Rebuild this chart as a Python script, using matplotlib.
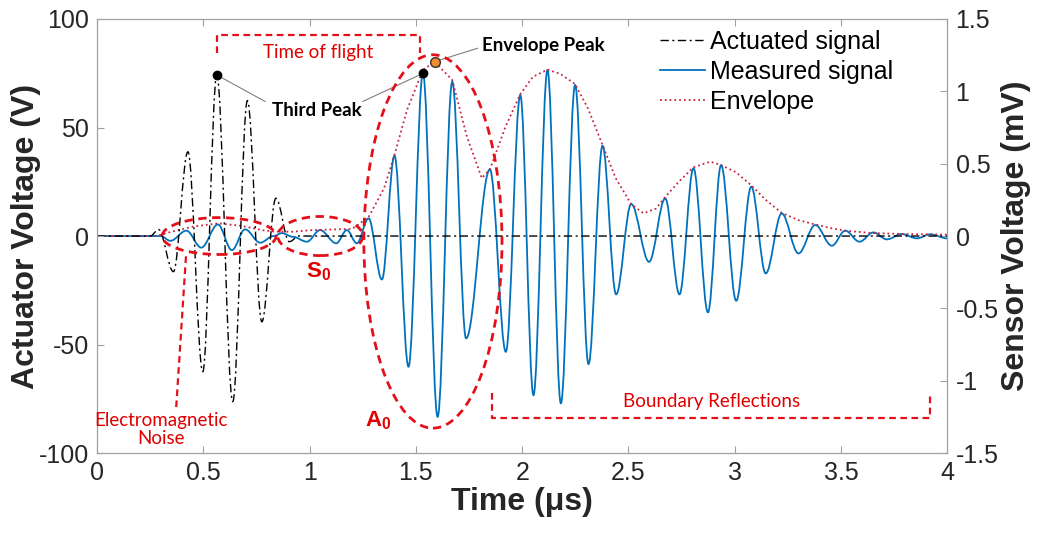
import numpy as np
import matplotlib
matplotlib.use("Agg")
import matplotlib.pyplot as plt
from matplotlib.path import Path
from matplotlib.patches import PathPatch, Ellipse
from matplotlib.lines import Line2D

plt.rcParams['font.family'] = ['Liberation Sans', 'DejaVu Sans']
plt.rcParams['mathtext.fontset'] = 'custom'
plt.rcParams['mathtext.bf'] = 'Liberation Sans:bold'
plt.rcParams['mathtext.rm'] = 'Liberation Sans'
plt.rcParams['axes.unicode_minus'] = False

# actuated signal: extrema (time in us, volts)
act_t = [0.0, 0.25, 0.289, 0.359, 0.427, 0.497, 0.563, 0.638, 0.707, 0.775, 0.841, 0.904, 0.95, 4.0]
act_v = [0.0, 0.0, 3.0, -16.4, 38.8, -62.5, 74.2, -76.3, 62.4, -39.5, 17.4, -2.6, 0.0, 0.0]

# measured signal: extrema (time in us, mV)
meas_t = [0.0, 0.30, 0.344, 0.42, 0.49, 0.568, 0.634, 0.696, 0.767, 0.83, 0.87, 0.92,
          0.987, 1.049, 1.125, 1.175, 1.222, 1.277, 1.34, 1.399, 1.465, 1.533, 1.602,
          1.671, 1.736, 1.848, 1.923, 1.991, 2.053, 2.119, 2.182, 2.249, 2.312, 2.378,
          2.442, 2.513, 2.597, 2.673, 2.74, 2.806, 2.874, 2.936, 3.007, 3.078, 3.146,
          3.221, 3.30, 3.379, 3.457, 3.52, 3.587, 3.653, 3.716, 3.786, 3.857, 3.92, 4.0]
meas_v = [0.0, 0.0, -0.033, 0.037, -0.08, 0.08, -0.097, 0.046, -0.046, 0.0, 0.02, -0.005,
          -0.039, 0.041, -0.05, 0.041, -0.05, 0.122, -0.30, 0.555, -0.903, 1.124, -1.249,
          1.066, -0.707, 0.461, -0.80, 0.974, -1.10, 1.147, -1.156, 1.044, -0.885, 0.624,
          -0.403, 0.221, -0.178, 0.26, -0.403, 0.468, -0.527, 0.49, -0.447, 0.341, -0.258,
          0.156, -0.12, 0.076, -0.067, 0.037, -0.039, 0.025, -0.023, 0.014, -0.016, 0.012, -0.016]

# envelope (time in us, mV)
env_t = [0.0, 0.28, 0.35, 0.45, 0.57, 0.68, 0.78, 0.84, 0.92, 1.0, 1.1, 1.2, 1.277, 1.35,
         1.399, 1.458, 1.533, 1.588, 1.671, 1.74, 1.81, 1.848, 1.92, 1.991, 2.05, 2.119,
         2.18, 2.249, 2.31, 2.378, 2.44, 2.513, 2.571, 2.63, 2.673, 2.74, 2.806, 2.885,
         2.936, 3.007, 3.078, 3.146, 3.221, 3.30, 3.379, 3.45, 3.52, 3.65, 3.8, 4.0]
env_v = [0.0, 0.0, 0.03, 0.065, 0.088, 0.07, 0.04, 0.03, 0.03, 0.04, 0.045, 0.05, 0.13, 0.33,
         0.56, 0.871, 1.147, 1.205, 1.078, 0.686, 0.40, 0.46, 0.75, 0.98, 1.10, 1.15,
         1.12, 1.05, 0.88, 0.63, 0.40, 0.22, 0.157, 0.19, 0.27, 0.38, 0.475, 0.514,
         0.49, 0.44, 0.35, 0.25, 0.16, 0.11, 0.08, 0.055, 0.037, 0.02, 0.014, 0.01]

third_peak = (0.563, 74.2)       # on actuated signal (V)
third_peak_meas = (1.533, 1.124)  # on measured signal (mV)
env_peak = (1.588, 1.205)         # envelope peak (mV)

RED = '#e3101a'
TXT_RED = '#e00000'


def wave_path(t, v, k=0.36):
    """smooth curve through the read extrema, flat tangent at each one"""
    verts = [(t[0], v[0])]
    codes = [Path.MOVETO]
    for i in range(len(t) - 1):
        dt = t[i + 1] - t[i]
        verts += [(t[i] + k * dt, v[i]), (t[i + 1] - k * dt, v[i + 1]), (t[i + 1], v[i + 1])]
        codes += [Path.CURVE4] * 3
    return Path(verts, codes)


fig = plt.figure(figsize=(10.56, 5.42), dpi=100)
ax = fig.add_axes([0.092, 0.164, 0.805, 0.801])
ax2 = ax.twinx()
ax.set_zorder(2)
ax.patch.set_visible(False)

ax2.add_patch(PathPatch(wave_path(meas_t, meas_v), fill=False, edgecolor='#0072BD', lw=1.3))
ax2.plot(env_t, env_v, color='#c8243f', ls=':', lw=1.3)
ax.add_patch(PathPatch(wave_path(act_t, act_v), fill=False, edgecolor='black', lw=1.0,
                       linestyle=(0, (6, 2.5, 1.5, 2.5))))

ax.set_xlim(0, 4)
ax.set_ylim(-100, 100)
ax2.set_ylim(-1.5, 1.5)
ax.set_xticks(np.arange(0, 4.01, 0.5))
ax.set_xticklabels(['0', '0.5', '1', '1.5', '2', '2.5', '3', '3.5', '4'])
ax.set_yticks([-100, -50, 0, 50, 100])
ax2.set_yticks([-1.5, -1, -0.5, 0, 0.5, 1, 1.5])
ax2.set_yticklabels(['-1.5', '-1', '-0.5', '0', '0.5', '1', '1.5'])

for a in (ax, ax2):
    for s in a.spines.values():
        s.set_color('#a0a0a0')
ax.tick_params(axis='both', direction='in', length=5, color='#a0a0a0', labelsize=18,
               labelcolor='#262626', top=True, pad=6)
ax.tick_params(axis='y', right=False)
ax2.tick_params(axis='y', direction='in', length=5, color='#a0a0a0', labelsize=18,
                labelcolor='#262626', pad=6)

ax.set_xlabel('Time (μs)', fontsize=23, fontweight='bold', color='#262626', labelpad=1)
ax.set_ylabel('Actuator Voltage (V)', fontsize=23, fontweight='bold', color='#262626', labelpad=-2)
ax2.set_ylabel('Sensor Voltage (mV)', fontsize=23, fontweight='bold', color='#262626', labelpad=2)

# markers
ax.plot(*third_peak, 'o', color='black', ms=6, zorder=6)
mv2v = 100 / 1.5
ax.plot(third_peak_meas[0], third_peak_meas[1] * mv2v, 'o', color='black', ms=6, zorder=6)
ax.plot(env_peak[0], env_peak[1] * mv2v, 'o', mfc='#f08c32', mec='#333333', ms=7, zorder=6)

# annotations
ann = ['Lato', 'DejaVu Sans']
ax.text(1.035, 58, 'Third Peak', fontsize=13.5, fontweight='bold', family=ann,
        ha='center', va='center')
ax.plot([third_peak[0], 0.79], [third_peak[1], 62], color='#7f7f7f', lw=0.8)
ax.plot([1.25, third_peak_meas[0]], [62, third_peak_meas[1] * mv2v], color='#7f7f7f', lw=0.8)
ax.text(2.1, 88, 'Envelope Peak', fontsize=13.5, fontweight='bold', family=ann,
        ha='center', va='center')
ax.plot([env_peak[0], 1.79], [env_peak[1] * mv2v, 86.5], color='#7f7f7f', lw=0.8)

dash = (0, (3, 2))
for c, w, h in [((0.574, 0), 0.536, 17), ((1.05, 0), 0.40, 18), ((1.58, -2.5), 0.65, 172)]:
    ax.add_patch(Ellipse(c, w, h, fill=False, edgecolor=RED, lw=2.0, linestyle=dash, zorder=5))

ax.text(1.04, -16.5, r'$\mathbf{S}_\mathbf{0}$', color=TXT_RED, fontsize=16,
        ha='center', va='center')
ax.text(1.32, -85, r'$\mathbf{A}_\mathbf{0}$', color=TXT_RED, fontsize=16,
        ha='center', va='center')

ax.text(0.30, -89, 'Electromagnetic\nNoise', color=TXT_RED, fontsize=13.5, family=ann,
        ha='center', va='center', linespacing=1.1)
ax.plot([0.372, 0.419], [-78.8, -7.8], color=RED, lw=1.6, ls=(0, (3, 2)))

ax.plot([0.565, 0.565, 1.52, 1.52], [84.5, 92.5, 92.5, 84.5], color=RED, lw=1.6, ls=(0, (3, 2)))
ax.text(1.04, 84.5, 'Time of flight', color=TXT_RED, fontsize=13.5, family=ann,
        ha='center', va='center')

ax.plot([1.86, 1.86, 3.92, 3.92], [-72.4, -83.9, -83.9, -72.4], color=RED, lw=1.6, ls=(0, (3, 2)))
ax.text(2.89, -76, 'Boundary Reflections', color=TXT_RED, fontsize=13.5, family=ann,
        ha='center', va='center')

handles = [Line2D([], [], color='black', lw=1.0, ls=(0, (6, 2.5, 1.5, 2.5))),
           Line2D([], [], color='#0072BD', lw=1.3),
           Line2D([], [], color='#c8243f', lw=1.3, ls=':')]
ax.legend(handles, ['Actuated signal', 'Measured signal', 'Envelope'], loc='upper left',
          bbox_to_anchor=(0.645, 1.01), frameon=False, fontsize=18, handlelength=1.8,
          handletextpad=0.2, labelspacing=0.25, borderpad=0.1)

fig.savefig('out.png', dpi=100)
